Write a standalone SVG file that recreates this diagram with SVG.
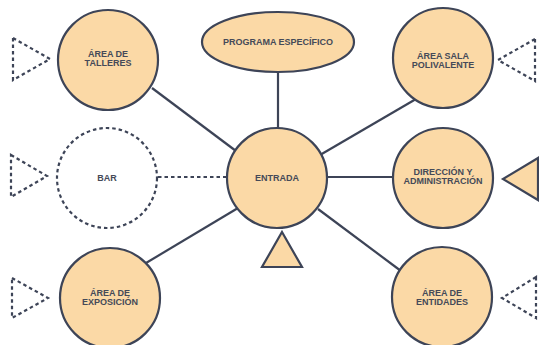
<svg xmlns="http://www.w3.org/2000/svg" width="539" height="345" viewBox="0 0 539 345">
<style>
.n{fill:#fbd9a6;stroke:#3d4457;stroke-width:2.2}
.d{fill:none;stroke:#3d4457;stroke-width:2.2;stroke-dasharray:3.5 3}
.c{stroke:#3d4457;stroke-width:2.2;fill:none}
.t{font-family:"Liberation Sans",Arial,sans-serif;font-weight:bold;font-size:9px;fill:#454a58;text-anchor:middle}
</style>
<rect width="539" height="345" fill="#fff"/>
<g id="connectors">
<line class="c" x1="152" y1="88" x2="236" y2="151"/>
<line class="c" x1="278" y1="72" x2="278" y2="129"/>
<line class="c" x1="416" y1="99" x2="320" y2="155"/>
<line class="c" x1="326" y1="177" x2="394" y2="177"/>
<line class="c" x1="146" y1="263" x2="238" y2="208"/>
<line class="c" x1="318" y1="209" x2="401" y2="271"/>
<line class="d" x1="158" y1="177" x2="228" y2="177"/>
</g>
<g id="taller">
<circle class="n" cx="108" cy="60" r="50"/>
<text class="t" x="108" y="57">ÁREA DE</text>
<text class="t" x="108" y="66">TALLERES</text>
</g>
<g id="taller-tri"><polygon class="d" points="13,38 50,59 13,80"/></g>
<g id="programa">
<ellipse class="n" cx="278" cy="42" rx="76" ry="30"/>
<text class="t" x="278" y="45">PROGRAMA ESPECÍFICO</text>
</g>
<g id="sala">
<circle class="n" cx="443" cy="58" r="50"/>
<text class="t" x="443" y="59">ÁREA SALA</text>
<text class="t" x="443" y="68">POLIVALENTE</text>
</g>
<g id="sala-tri"><polygon class="d" points="535,39 498,60 535,81"/></g>
<g id="bar">
<circle class="d" cx="107" cy="178" r="50"/>
<text class="t" x="107" y="181">BAR</text>
</g>
<g id="bar-tri"><polygon class="d" points="11,155 47,176 11,197"/></g>
<g id="entrada">
<circle class="n" cx="277" cy="178" r="50"/>
<text class="t" x="277" y="181">ENTRADA</text>
</g>
<g id="entrada-tri"><polygon class="n" points="282,232 302,267 262,267"/></g>
<g id="direccion">
<circle class="n" cx="443" cy="178" r="50"/>
<text class="t" x="443" y="175">DIRECCIÓN Y</text>
<text class="t" x="443" y="184">ADMINISTRACIÓN</text>
</g>
<g id="direccion-tri"><polygon class="n" points="538,158 503,179 538,200"/></g>
<g id="exposicion">
<circle class="n" cx="110" cy="298" r="50"/>
<text class="t" x="110" y="296">ÁREA DE</text>
<text class="t" x="110" y="305">EXPOSICIÓN</text>
</g>
<g id="exposicion-tri"><polygon class="d" points="12,278 48,298 12,318"/></g>
<g id="entidades">
<circle class="n" cx="442" cy="297" r="50"/>
<text class="t" x="442" y="296">ÁREA DE</text>
<text class="t" x="442" y="305">ENTIDADES</text>
</g>
<g id="entidades-tri"><polygon class="d" points="536,277 502,298 536,318"/></g>
</svg>
